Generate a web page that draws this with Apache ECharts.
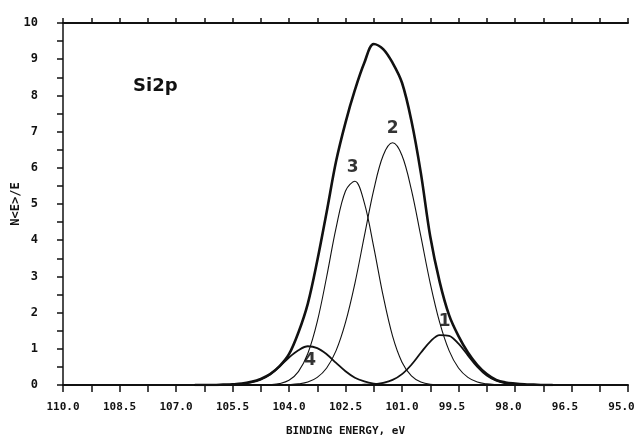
<!DOCTYPE html>
<html>
<head>
<meta charset="utf-8">
<script src="https://cdn.jsdelivr.net/npm/echarts@6/dist/echarts.min.js"></script>
<style>
  html, body { margin: 0; padding: 0; background: #fff; }
</style>
</head>
<body>
<div id="chart" style="width:634px;height:439px;"></div>
<script>
// binding energy grid (eV), read every 0.25 eV
var energy = [97.0, 97.25, 97.5, 97.75, 98.0, 98.25, 98.5, 98.75, 99.0, 99.25,
  99.5, 99.75, 100.0, 100.25, 100.5, 100.75, 101.0, 101.25, 101.5, 101.75,
  102.0, 102.25, 102.5, 102.75, 103.0, 103.25, 103.5, 103.75, 104.0, 104.25,
  104.5, 104.75, 105.0, 105.25, 105.5, 105.75, 106.0, 106.25, 106.5];

// measured envelope N(E)/E
var envelope = [0, 0, 0.01, 0.02, 0.04, 0.07, 0.14, 0.30, 0.55, 0.90,
  1.35, 1.93, 2.85, 4.10, 5.86, 7.30, 8.35, 8.90, 9.28, 9.42,
  8.90, 8.15, 7.25, 6.18, 4.78, 3.43, 2.25, 1.45, 0.85, 0.52,
  0.30, 0.17, 0.09, 0.04, 0.02, 0.01, 0, 0, 0];

// fitted components
var peak1 = [0, 0, 0, 0, 0.01, 0.05, 0.12, 0.26, 0.50, 0.82,
  1.14, 1.36, 1.38, 1.20, 0.89, 0.56, 0.30, 0.14, 0.06, 0.02,
  0.01, 0, 0, 0, 0, 0, 0, 0, 0, 0,
  0, 0, 0, 0, 0, 0, 0, 0, 0];
var peak2 = [0, 0, 0, 0, 0, 0, 0.01, 0.03, 0.08, 0.21,
  0.47, 0.95, 1.73, 2.81, 4.11, 5.39, 6.34, 6.69, 6.34, 5.39,
  4.11, 2.81, 1.73, 0.95, 0.47, 0.21, 0.08, 0.03, 0.01, 0,
  0, 0, 0, 0, 0, 0, 0, 0, 0];
var peak3 = [0, 0, 0, 0, 0, 0, 0, 0, 0, 0,
  0, 0, 0.01, 0.02, 0.08, 0.25, 0.63, 1.35, 2.46, 3.81,
  5.03, 5.63, 5.36, 4.34, 2.99, 1.75, 0.87, 0.37, 0.13, 0.04,
  0.01, 0, 0, 0, 0, 0, 0, 0, 0];
var peak4 = [0, 0, 0, 0, 0, 0, 0, 0, 0, 0,
  0, 0, 0, 0, 0, 0, 0, 0, 0.01, 0.04,
  0.10, 0.20, 0.38, 0.61, 0.85, 1.02, 1.07, 0.96, 0.76, 0.51,
  0.30, 0.15, 0.07, 0.03, 0.01, 0, 0, 0, 0];

// peak numbers: [energy, value, text]
var peakLabels = [[99.87, 1.74, '1'], [101.25, 7.08, '2'], [102.31, 6.01, '3'], [103.44, 0.67, '4']];

var xTickLabels = ['110.0', '108.5', '107.0', '105.5', '104.0', '102.5', '101.0', '99.5', '98.0', '96.5', '95.0'];
var yTickLabels = ['0', '1', '2', '3', '4', '5', '6', '7', '8', '9', '10'];

function pairs(vals) {
  return energy.map(function (e, i) { return [e, vals[i]]; });
}

var mono = '"DejaVu Sans Mono", monospace';
var sans = '"DejaVu Sans", "Liberation Sans", sans-serif';
var ink = '#111';

function xLabel(v) {
  var k = (110 - v) / 1.5;
  if (Math.abs(k - Math.round(k)) > 1e-6) return '';
  var s = xTickLabels[Math.round(k)];
  // short labels sit a little left of their tick, as on the plotter output
  return s.length < 5 ? '{s|' + s + '}' : s;
}

function curve(name, vals, width) {
  return {
    name: name,
    type: 'line',
    data: pairs(vals),
    smooth: 0.35,
    showSymbol: false,
    lineStyle: { color: ink, width: width },
    z: 3
  };
}

var chart = echarts.init(document.getElementById('chart'));
var option = {
  animation: false,
  backgroundColor: '#fff',
  title: {
    text: 'Si2p',
    left: 133,
    top: 77,
    padding: 0,
    textStyle: { fontFamily: sans, fontWeight: 'bold', fontSize: 18, color: ink }
  },
  grid: { left: 63, right: 6, top: 23, bottom: 54, outerBoundsMode: 'none', containLabel: false },
  xAxis: [
    {
      type: 'value',
      position: 'bottom',
      min: 95,
      max: 110,
      interval: 0.75,
      inverse: true,
      name: 'BINDING ENERGY, eV',
      nameLocation: 'middle',
      nameGap: 41,
      nameMoveOverlap: false,
      nameTextStyle: { fontFamily: mono, fontWeight: 'bold', fontSize: 11, color: ink },
      axisLine: { onZero: false, lineStyle: { color: ink, width: 2 } },
      axisTick: { length: 7, lineStyle: { color: ink, width: 1.5 } },
      axisLabel: {
        margin: 17,
        fontFamily: mono,
        fontWeight: 'bold',
        fontSize: 11,
        color: ink,
        hideOverlap: false,
        showMinLabel: true,
        showMaxLabel: true,
        formatter: xLabel,
        rich: {
          s: { fontFamily: mono, fontWeight: 'bold', fontSize: 11, color: ink, padding: [0, 13, 0, 0] }
        }
      },
      splitLine: { show: false }
    },
    {
      type: 'value',
      position: 'top',
      min: 95,
      max: 110,
      interval: 0.75,
      inverse: true,
      axisLine: { onZero: false, lineStyle: { color: ink, width: 2 } },
      axisTick: { length: 5, lineStyle: { color: ink, width: 1.5 } },
      axisLabel: { show: false },
      splitLine: { show: false }
    }
  ],
  yAxis: {
    type: 'value',
    min: 0,
    max: 10,
    interval: 0.5,
    name: 'N<E>/E',
    nameLocation: 'middle',
    nameGap: 41,
    nameMoveOverlap: false,
    nameTextStyle: { fontFamily: mono, fontWeight: 'bold', fontSize: 12, color: ink },
    axisLine: { show: true, onZero: false, lineStyle: { color: ink, width: 1.5 } },
    axisTick: { show: true, length: 6, lineStyle: { color: ink, width: 1.5 } },
    axisLabel: {
      margin: 25,
      fontFamily: mono,
      fontWeight: 'bold',
      fontSize: 12,
      color: ink,
      formatter: function (v) {
        return Math.abs(v - Math.round(v)) < 1e-6 ? yTickLabels[Math.round(v)] : '';
      }
    },
    splitLine: { show: false }
  },
  series: [
    curve('envelope', envelope, 2.6),
    curve('1', peak1, 1.8),
    curve('2', peak2, 1.1),
    curve('3', peak3, 1.1),
    curve('4', peak4, 1.8),
    {
      name: 'labels',
      type: 'scatter',
      data: peakLabels,
      symbolSize: 0,
      silent: true,
      z: 5,
      itemStyle: { color: 'transparent' },
      label: {
        show: true,
        position: 'inside',
        formatter: function (p) { return p.value[2]; },
        fontFamily: sans,
        fontWeight: 'bold',
        fontSize: 17,
        color: '#000',
        textBorderWidth: 0
      }
    }
  ]
};
chart.setOption(option);
</script>
</body>
</html>
